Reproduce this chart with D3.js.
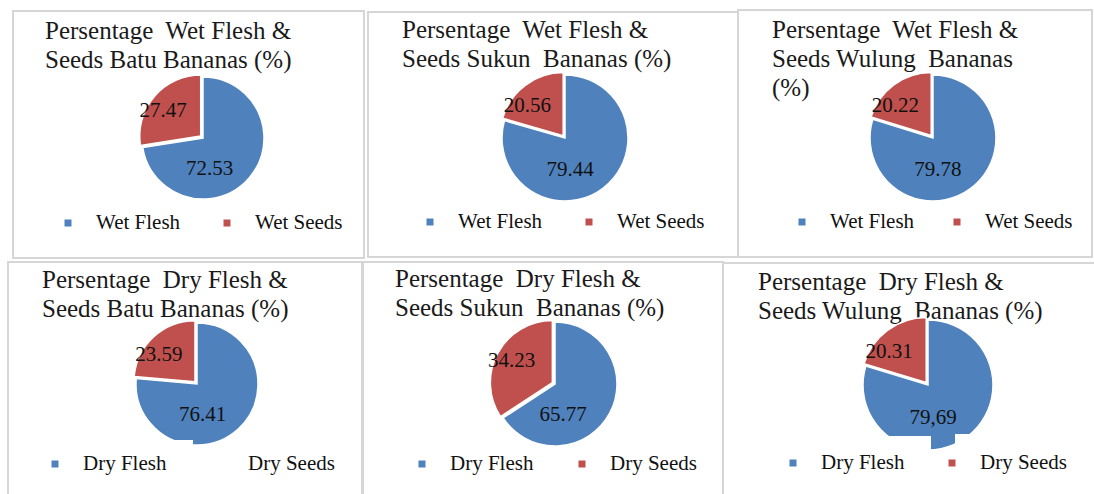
<!DOCTYPE html>
<html>
<head>
<meta charset="utf-8">
<script src="https://cdn.jsdelivr.net/npm/d3@7"></script>
<style>
  body { margin: 0; background: #fff; }
  svg { display: block; }
  text { white-space: pre; font-family: 'Liberation Serif', 'DejaVu Serif', 'Times New Roman', serif; }
</style>
</head>
<body>
<svg id="chart" width="1094" height="494"></svg>
<script>
// data
const varieties = ['Batu', 'Sukun', 'Wulung'];
const wetFlesh = [72.53, 79.44, 79.78];
const wetSeeds = [27.47, 20.56, 20.22];
const dryFlesh = [76.41, 65.77, 79.69];
const drySeeds = [23.59, 34.23, 20.31];
const fleshLabels = ['72.53', '79.44', '79.78', '76.41', '65.77', '79,69'];
const seedLabels = ['27.47', '20.56', '20.22', '23.59', '34.23', '20.31'];
const titles = [
  ['Persentage  Wet Flesh &', 'Seeds Batu Bananas (%)'],
  ['Persentage  Wet Flesh &', 'Seeds Sukun  Bananas (%)'],
  ['Persentage  Wet Flesh &', 'Seeds Wulung  Bananas', '(%)'],
  ['Persentage  Dry Flesh &', 'Seeds Batu Bananas (%)'],
  ['Persentage  Dry Flesh &', 'Seeds Sukun  Bananas (%)'],
  ['Persentage  Dry Flesh &', 'Seeds Wulung  Bananas (%)']
];
const legendNames = [['Wet Flesh', 'Wet Seeds'], ['Dry Flesh', 'Dry Seeds']];

const colors = ['#4f81bd', '#c0504d'];
const serif = "'Liberation Serif', 'DejaVu Serif', serif";

// panel boxes and placement; legendBg = opaque legend entry boxes that overlap the pie
const layout = [
  { x: 13, y: 11, w: 351, h: 247, tx: 45, ty: 39, cx: 203, cy: 138, r: 61, ly: 223, lx: [68, 227], seedMark: true, legendBg: [] },
  { x: 368, y: 12, w: 370, h: 245, tx: 402, ty: 38, cx: 565, cy: 138, r: 63, ly: 222, lx: [430, 589], seedMark: true, legendBg: [] },
  { x: 738, y: 10, w: 354, h: 247, tx: 772, ty: 38, cx: 933, cy: 138, r: 63, ly: 222, lx: [802, 957], seedMark: true, legendBg: [] },
  { x: 8, y: 262, w: 354, h: 240, tx: 42, ty: 288, cx: 197, cy: 384, r: 61, ly: 464, lx: [55, 220], seedMark: false,
    legendBg: [[40, 193, 440]] },
  { x: 363, y: 262, w: 360, h: 240, tx: 395, ty: 287, cx: 555, cy: 384, r: 62, ly: 464, lx: [422, 582], seedMark: true, legendBg: [] },
  { x: 723, y: 263, w: 375, h: 240, tx: 758, ty: 290, cx: 928, cy: 385, r: 65, ly: 463, lx: [793, 952], seedMark: true,
    legendBg: [[780, 931, 436], [955, 1080, 434]] }
];

const svg = d3.select('#chart');

const pie = d3.pie().sort(null).value(d => d);

layout.forEach((p, i) => {
  const row = Math.floor(i / 3);
  const col = i % 3;
  const values = row === 0 ? [wetFlesh[col], wetSeeds[col]] : [dryFlesh[col], drySeeds[col]];
  const labels = [fleshLabels[i], seedLabels[i]];

  svg.append('rect')
    .attr('x', p.x).attr('y', p.y)
    .attr('width', p.w).attr('height', p.h)
    .attr('fill', '#fff')
    .attr('stroke', '#d6d6d6')
    .attr('stroke-width', 2);

  const title = svg.append('text')
    .attr('x', p.tx).attr('y', p.ty)
    .attr('font-family', serif)
    .attr('font-size', 25)
    .attr('fill', '#1a1a1a');
  titles[i].forEach((t, k) => {
    title.append('tspan').attr('x', p.tx).attr('dy', k === 0 ? 0 : 29).text(t);
  });

  const arc = d3.arc().innerRadius(0).outerRadius(p.r);
  const g = svg.append('g').attr('transform', `translate(${p.cx},${p.cy})`);
  const slices = pie(values);

  g.selectAll('path')
    .data(slices)
    .enter()
    .append('path')
    .attr('d', arc)
    .attr('fill', (d, k) => colors[k])
    .attr('stroke', '#fff')
    .attr('stroke-width', 1.5)
    .attr('transform', (d, k) => {
      if (k === 0) return null;
      const a = (d.startAngle + d.endAngle) / 2;
      return `translate(${Math.sin(a) * 3},${-Math.cos(a) * 3})`;
    });

  // legend entry backgrounds sit on top of the pie
  p.legendBg.forEach(b => {
    svg.append('rect')
      .attr('x', b[0]).attr('y', b[2])
      .attr('width', b[1] - b[0]).attr('height', 40)
      .attr('fill', '#fff');
  });

  // data labels, placed roughly as Excel "best fit" puts them
  g.selectAll('text')
    .data(slices)
    .enter()
    .append('text')
    .attr('text-anchor', 'middle')
    .attr('dy', '0.35em')
    .attr('font-family', serif)
    .attr('font-size', 21)
    .attr('fill', '#111')
    .attr('transform', (d, k) => {
      const mid = (d.startAngle + d.endAngle) / 2;
      let a, dist;
      if (k === 0) { a = mid * 0.25 + Math.PI * 0.75; dist = p.r * 0.5; }
      else { a = mid * 0.5 + (Math.PI * 5 / 3) * 0.5; dist = p.r * 0.8; }
      return `translate(${Math.sin(a) * dist},${-Math.cos(a) * dist})`;
    })
    .text((d, k) => labels[k]);

  // legend
  legendNames[row].forEach((name, k) => {
    if (k === 1 && !p.seedMark) {
      // no marker drawn for this entry in the source
    } else {
      svg.append('rect')
        .attr('x', p.lx[k] - 3.5).attr('y', p.ly - 3.5)
        .attr('width', 7).attr('height', 7)
        .attr('fill', colors[k]);
    }
    svg.append('text')
      .attr('x', p.lx[k] + 28).attr('y', p.ly + 6)
      .attr('font-family', serif)
      .attr('font-size', 21)
      .attr('fill', '#111')
      .text(name);
  });
});
</script>
</body>
</html>
